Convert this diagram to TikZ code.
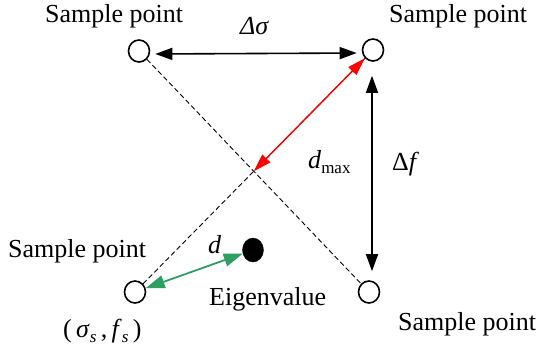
\documentclass[tikz,border=0pt]{standalone}
\usepackage{fontspec}
\setmainfont{Liberation Serif}
\usetikzlibrary{arrows.meta,shapes.geometric,intersections}
\definecolor{mygreen}{RGB}{46,158,98}
\begin{document}
\begin{tikzpicture}[x=1pt,y=-1pt,
  lbl/.style={anchor=base west,inner sep=0pt,font=\fontsize{26}{30}\selectfont},
  spt/.style={draw,ellipse,line width=1.6pt,minimum width=21pt,minimum height=22pt,inner sep=0pt},
  blk/.style={line width=1.6pt,{Triangle[length=17pt,width=12pt]}-{Triangle[length=17pt,width=12pt]}},
  redarr/.style={red,line width=1.4pt,{Triangle[length=18pt,width=11pt]}-{Triangle[length=18pt,width=11pt]}},
  grnarr/.style={mygreen,line width=1.8pt,{Triangle[length=19pt,width=13pt]}-{Triangle[length=19pt,width=13pt]}},
  dsh/.style={line width=0.9pt,dash pattern=on 5pt off 3pt}]
\useasboundingbox (0,0) rectangle (541,349);
% sample points
\node[spt] (TL) at (139,51) {};
\node[spt] (TR) at (373,50) {};
\node[spt] (BL) at (135,292) {};
\node[spt] (BR) at (369,292) {};
\node[draw,fill=black,ellipse,minimum width=21pt,minimum height=24pt,inner sep=0pt] (EV) at (253,250) {};
% labels
\node[lbl] (tTL) at (45,22) {Sample point};
\node[lbl] (tTR) at (389,22) {Sample point};
\node[lbl] (tBL) at (8,257) {Sample point};
\node[lbl] (tBR) at (398,330) {Sample point};
\node[lbl] (tEV) at (209,305) {Eigenvalue};
\node[lbl] (td) at (208,253) {\itshape d};
\node[lbl] (tsf) at (63,337) {(\,\textit{σ}{\fontsize{17}{20}\selectfont\raisebox{-5pt}{\textit{s}}}\,,\,\textit{f}{\fontsize{17}{20}\selectfont\raisebox{-5pt}{\textit{s}}}\,)};
\node[lbl] (tds) at (240,34) {\textit{Δσ}};
\node[lbl] (tdm) at (308,168) {\textit{d}{\fontsize{17}{20}\selectfont\raisebox{-5pt}{max}}};
\node[lbl] (tdf) at (392,170) {Δ\textit{f}};
% dashed diagonals
\draw[dsh,name path=d1] (TL) -- (BR);
\draw[dsh,name path=d2] (BL) -- (TR);
\path[name intersections={of=d1 and d2,by=X}];
% arrows
\draw[blk,shorten <=5pt,shorten >=5pt] ([yshift=-3pt]TL.east) -- ([yshift=-3pt]TR.west);
\draw[blk,shorten <=14pt,shorten >=9pt] ([xshift=-1pt]TR.south) -- ([xshift=-1pt]TR.south |- BR.north);
\draw[redarr] (TR) -- (X);
\draw[grnarr] (BL) -- (EV);
\end{tikzpicture}
\end{document}
